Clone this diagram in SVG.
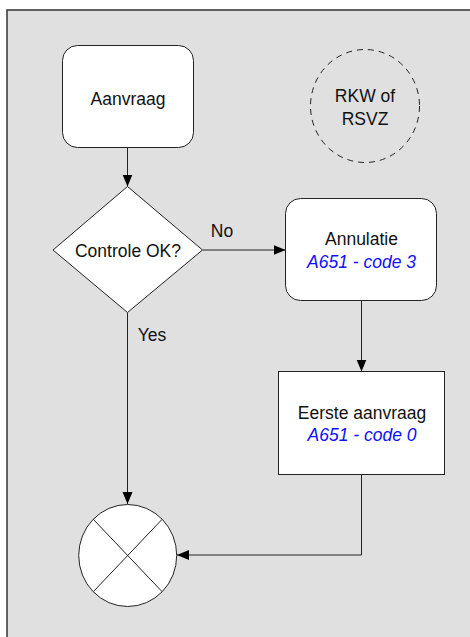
<svg xmlns="http://www.w3.org/2000/svg" width="470" height="637" viewBox="0 0 470 637">
<style>
.node{fill:#fff;stroke:#222;stroke-width:1}
.t{font-family:"Liberation Sans",Arial,sans-serif;font-size:17.5px;fill:#111;text-anchor:middle}
.b{fill:#1010ff;font-style:italic}
.c{fill:none;stroke:#222;stroke-width:1}
</style>
<defs>
<marker id="ah" markerWidth="12" markerHeight="12" viewBox="0 0 12 12" refX="12" refY="6" orient="auto" markerUnits="userSpaceOnUse">
<path d="M0,1 L12,6 L0,11 Z" fill="#000"/>
</marker>
</defs>
<rect x="0" y="0" width="470" height="637" fill="#fff"/>
<rect x="7" y="10" width="475" height="640" fill="#e0e0e0" stroke="#333" stroke-width="1.5"/>
<g id="connectors">
<path class="c" d="M127.5,147.5 V186.5" marker-end="url(#ah)"/>
<path class="c" d="M202.5,250 H285.5" marker-end="url(#ah)"/>
<path class="c" d="M361.5,300.5 V371.5" marker-end="url(#ah)"/>
<path class="c" d="M127.5,312.5 V504" marker-end="url(#ah)"/>
<path class="c" d="M361.5,474.5 V555 H177" marker-end="url(#ah)"/>
<text class="t" x="222" y="237">No</text>
<text class="t" x="152" y="341">Yes</text>
</g>
<g id="aanvraag">
<rect class="node" x="62.5" y="45.5" width="131" height="102" rx="15"/>
<text class="t" x="128" y="105">Aanvraag</text>
</g>
<g id="rkw">
<ellipse cx="365" cy="106" rx="54.5" ry="56.5" fill="none" stroke="#222" stroke-width="1" stroke-dasharray="6,5"/>
<text class="t" x="365" y="102">RKW of</text>
<text class="t" x="365" y="125">RSVZ</text>
</g>
<g id="controle">
<path class="node" d="M127.5,186.5 L202.5,250 L127.5,312.5 L53,250 Z"/>
<text class="t" x="128" y="257">Controle OK?</text>
</g>
<g id="annulatie">
<rect class="node" x="285.5" y="198.5" width="151" height="102" rx="15"/>
<text class="t" x="361.5" y="245">Annulatie</text>
<text class="t b" x="361.5" y="268">A651 - code 3</text>
</g>
<g id="eerste">
<rect class="node" x="278.5" y="371.5" width="166" height="103"/>
<text class="t" x="362" y="419">Eerste aanvraag</text>
<text class="t b" x="362" y="441">A651 - code 0</text>
</g>
<g id="einde">
<ellipse class="node" cx="127.7" cy="555.5" rx="49" ry="51"/>
<path class="c" d="M93.3,519.3 L162.1,591.7 M162.1,519.3 L93.3,591.7"/>
</g>
</svg>
